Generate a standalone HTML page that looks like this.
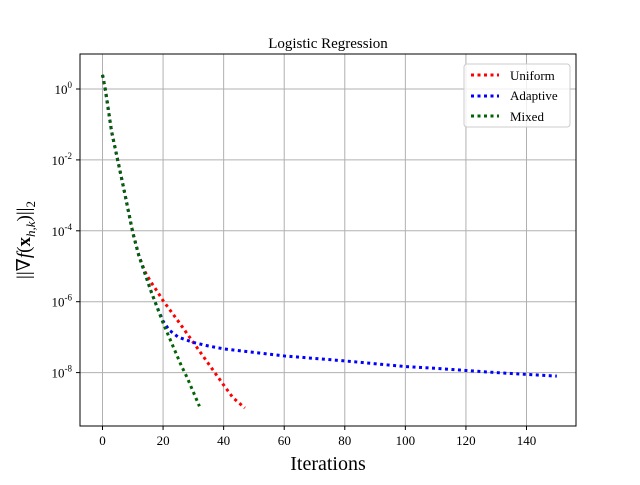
<!DOCTYPE html>
<html><head><meta charset="utf-8"><style>
body{margin:0;background:#fff}
svg{font-family:"Liberation Serif","DejaVu Serif",serif}
</style></head><body>
<svg id="chart" width="640" height="480" xmlns="http://www.w3.org/2000/svg">
<rect width="640" height="480" fill="#fff"/>
<g id="grid"></g>
<g id="series"></g>
<rect x="80" y="54" width="496" height="372" fill="none" stroke="#000" stroke-width="1"/>
<g id="ticks"></g>
<text x="328" y="48" text-anchor="middle" font-size="15">Logistic Regression</text>
<text x="328" y="470" text-anchor="middle" font-size="20">Iterations</text>
<text transform="translate(30,240) rotate(-90)" text-anchor="middle" font-size="19">||∇<tspan font-style="italic">f</tspan>(<tspan font-weight="bold">x</tspan><tspan font-size="13" dy="5"><tspan font-style="italic">h,k</tspan></tspan><tspan dy="-5">)||</tspan><tspan font-size="13" dy="5">2</tspan></text>
<g>
<rect x="464" y="64" width="106" height="63" rx="3" fill="#fff" fill-opacity="0.8" stroke="#ccc"/>
<g><line x1="471" y1="75" x2="499" y2="75" stroke="#f00" stroke-width="3" stroke-dasharray="3,3.5"/><text x="510" y="80" font-size="13">Uniform</text></g>
<g><line x1="471" y1="96" x2="499" y2="96" stroke="#00f" stroke-width="3" stroke-dasharray="3,3.5"/><text x="510" y="100" font-size="13">Adaptive</text></g>
<g><line x1="471" y1="116" x2="499" y2="116" stroke="#006400" stroke-width="3" stroke-dasharray="3,3.5"/><text x="510" y="121" font-size="13">Mixed</text></g>
</g>
</svg>
<script>
const xTicks=[0,20,40,60,80,100,120,140];
const yTicks=[0,-2,-4,-6,-8];
const uniformX=[0,1,3,5,7,10,12,14,16,18,20,25,30,35,40,43,47];
const uniformY=[0.4,-0.05,-1.2,-2.0,-2.8,-4.05,-4.7,-5.15,-5.45,-5.7,-5.97,-6.55,-7.15,-7.75,-8.35,-8.7,-9.0];
const adaptiveX=[0,1,3,5,7,10,12,14,16,18,20,22,25,30,35,40,50,60,70,80,90,100,110,120,130,140,150];
const adaptiveY=[0.4,-0.05,-1.2,-2.0,-2.8,-4.05,-4.7,-5.2,-5.7,-6.15,-6.55,-6.8,-7.0,-7.15,-7.25,-7.33,-7.43,-7.53,-7.6,-7.67,-7.75,-7.83,-7.88,-7.94,-8.0,-8.05,-8.1];
const mixedX=[0,1,3,5,7,10,12,14,16,18,20,22,24,26,28,30,32];
const mixedY=[0.4,-0.05,-1.2,-2.0,-2.8,-4.05,-4.7,-5.2,-5.7,-6.15,-6.6,-7.0,-7.4,-7.8,-8.15,-8.55,-8.95];
const NS="http://www.w3.org/2000/svg";
function sx(v){return 102.5+v*(424/140);}
function sy(l){return 89-l*35.45;}
const grid=document.getElementById('grid'),ticks=document.getElementById('ticks'),series=document.getElementById('series');
function mk(t,a,p){const e=document.createElementNS(NS,t);for(const k in a)e.setAttribute(k,a[k]);p.appendChild(e);return e;}
xTicks.forEach(v=>{
 const g=mk('line',{x1:sx(v),x2:sx(v),y1:54,y2:426,stroke:'#b0b0b0','stroke-width':1},grid);
 
 
 mk('line',{x1:sx(v),x2:sx(v),y1:426,y2:430,stroke:'#000'},ticks);
 const t=mk('text',{x:sx(v),y:445,'text-anchor':'middle','font-size':13},ticks);
 t.textContent=v;
 
 
});
yTicks.forEach(v=>{
 const g=mk('line',{x1:80,x2:576,y1:sy(v),y2:sy(v),stroke:'#b0b0b0','stroke-width':1},grid);
 
 
 mk('line',{x1:76,x2:80,y1:sy(v),y2:sy(v),stroke:'#000'},ticks);
 const t=mk('text',{x:72,y:sy(v)+5,'text-anchor':'end','font-size':13},ticks);
 t.innerHTML='10<tspan font-size="9" dy="-6">'+v+'</tspan>';
 
 
});
function line(xs,ys,color,name){
 const pts=xs.map((x,i)=>sx(x)+','+sy(ys[i])).join(' ');
 const p=mk('polyline',{points:pts,fill:'none',stroke:color,'stroke-width':3,'stroke-dasharray':'3,3.5'},series);
 
 
}
line(uniformX,uniformY,'#f00','uniform-line');
line(adaptiveX,adaptiveY,'#00f','adaptive-line');
line(mixedX,mixedY,'#006400','mixed-line');
</script>
</body></html>
